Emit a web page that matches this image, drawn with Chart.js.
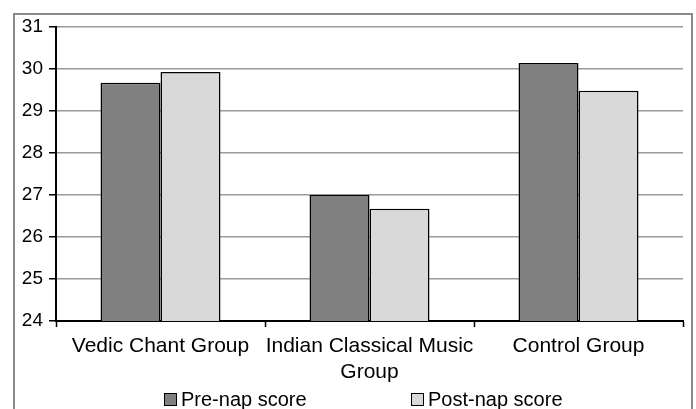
<!DOCTYPE html>
<html>
<head>
<meta charset="utf-8">
<script src="https://cdn.jsdelivr.net/npm/chart.js@4/dist/chart.umd.min.js"></script>
<style>
  html, body { margin: 0; padding: 0; background: #fff; }
  body { width: 696px; height: 409px; position: relative; overflow: hidden; font-family: 'Liberation Sans', Arial, sans-serif; }
  #frame { position: absolute; left: 13px; top: 13px; width: 676px; height: 420px; border: 2px solid #8a8a8a; box-sizing: content-box; }
  #wrap { position: absolute; left: 0; top: 0; width: 696px; height: 409px; }
  #legend { position: absolute; left: 0; top: 388px; width: 696px; height: 22px; }
  .item { position: absolute; top: 0; display: flex; align-items: center; font-size: 20px; line-height: 22px; color: #000; }
  .box { width: 11px; height: 11px; border: 1.5px solid #000; margin-right: 4px; }
</style>
</head>
<body>
<div id="frame"></div>
<div id="wrap"><canvas id="c" width="696" height="409"></canvas></div>
<div id="legend"></div>
<script>
const categories = ['Vedic Chant Group', ['Indian Classical Music', 'Group'], 'Control Group'];
const seriesNames = ['Pre-nap score', 'Post-nap score'];
const preNap = [29.67, 27.0, 30.14];
const postNap = [29.93, 26.67, 29.48];
const yTicks = [24, 25, 26, 27, 28, 29, 30, 31];
const seriesColors = ['#808080', '#d9d9d9'];

const FONT = "'Liberation Sans', Arial, sans-serif";

const chart = new Chart(document.getElementById('c'), {
  type: 'bar',
  data: {
    labels: categories,
    datasets: [
      { label: seriesNames[0], data: preNap, backgroundColor: seriesColors[0], borderColor: '#000', borderWidth: 1.5, borderSkipped: 'bottom' },
      { label: seriesNames[1], data: postNap, backgroundColor: seriesColors[1], borderColor: '#000', borderWidth: 1.5, borderSkipped: 'bottom' }
    ]
  },
  options: {
    responsive: false,
    animation: false,
    devicePixelRatio: 1,
    layout: { padding: { left: 0, top: 27, right: 13, bottom: 0 } },
    datasets: { bar: { categoryPercentage: 0.574, barPercentage: 1.0 } },
    plugins: { legend: { display: false }, tooltip: { enabled: false } },
    scales: {
      x: {
        offset: true,
        grid: { display: true, drawOnChartArea: false, drawTicks: true, tickLength: 6, tickColor: '#000', tickWidth: 1.5, offset: true },
        border: { display: true, color: '#000', width: 2 },
        ticks: { color: '#000', padding: 7, font: { family: FONT, size: 21 }, maxRotation: 0, autoSkip: false },
        afterFit: (s) => { s.height = 88; }
      },
      y: {
        min: yTicks[0],
        max: yTicks[yTicks.length - 1],
        afterBuildTicks: (s) => { s.ticks = yTicks.map(v => ({ value: v })); },
        grid: { color: '#9a9a9a', lineWidth: 1.5, drawTicks: true, tickLength: 7, tickColor: '#000', tickWidth: 1.5 },
        border: { display: true, color: '#000', width: 2 },
        ticks: { color: '#000', padding: 6, font: { family: FONT, size: 19 } },
        afterFit: (s) => { s.width = 56; }
      }
    }
  }
});

// HTML legend built from series arrays
const legend = document.getElementById('legend');
const legendLeft = [164, 411];
seriesNames.forEach((name, i) => {
  const it = document.createElement('div');
  it.className = 'item';
  it.style.left = legendLeft[i] + 'px';
  const b = document.createElement('span');
  b.className = 'box';
  b.style.background = seriesColors[i];
  const t = document.createElement('span');
  t.textContent = name;
  it.appendChild(b); it.appendChild(t);
  legend.appendChild(it);
});
</script>
</body>
</html>
